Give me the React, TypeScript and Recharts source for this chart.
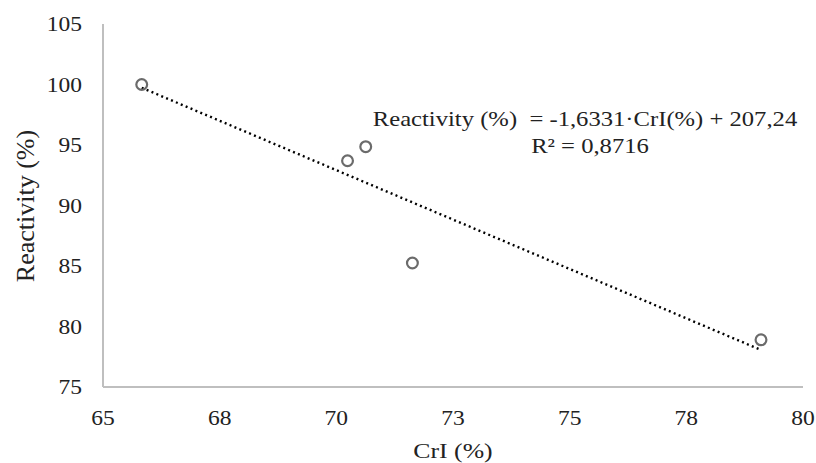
import React from 'react';
import { ScatterChart, Scatter, XAxis, YAxis, Customized } from 'recharts';

const crI = [65.83, 70.24, 70.63, 71.63, 79.1];
const reactivity = [100.0, 93.7, 94.86, 85.25, 78.9];

const trendX = [65.83, 79.1];
const trendY = [99.73, 78.06];

const xTicks = [65, 67.5, 70, 72.5, 75, 77.5, 80];
const xTickLabels = ['65', '68', '70', '73', '75', '78', '80'];
const yTicks = [75, 80, 85, 90, 95, 100, 105];

const xTitle = 'CrI (%)';
const yTitle = 'Reactivity (%)';
const equationLine1 = 'Reactivity (%)  = -1,6331·CrI(%) + 207,24';
const equationLine2 = 'R² = 0,8716';

const points = crI.map((x, i) => ({ x, y: reactivity[i] }));
const trend = trendX.map((x, i) => ({ x, y: trendY[i] }));

const FONT = '"Liberation Serif", "Times New Roman", serif';
const TEXT = '#222';
const SX = 1.12;

const XTick = (props: any) => {
  const { x, y, payload } = props;
  const label = xTickLabels[xTicks.indexOf(payload.value)] ?? String(payload.value);
  return (
    <text transform={`translate(${x},${y}) scale(${SX},1)`} x={0} y={0} dy="0.71em" textAnchor="middle"
      style={{ fontFamily: FONT, fontSize: 21, fill: TEXT }}>{label}</text>
  );
};

const YTick = (props: any) => {
  const { x, y, payload } = props;
  return (
    <text transform={`translate(${x},${y}) scale(${SX},1)`} x={0} y={0} dy="0.35em" textAnchor="end"
      style={{ fontFamily: FONT, fontSize: 21, fill: TEXT }}>{String(payload.value)}</text>
  );
};

const ScaledText = ({ cx, cy, size, sx, rotate, children }: any) => (
  <text
    transform={`translate(${cx},${cy})${rotate ? ` rotate(${rotate})` : ''} scale(${sx},1)`}
    x={0} y={0} textAnchor="middle" dominantBaseline="central"
    style={{ fontFamily: FONT, fontSize: size, fill: TEXT, whiteSpace: 'pre' }}
  >{children}</text>
);

export default function App() {
  return (
    <div style={{ position: 'absolute', left: 0, top: 0, width: 816, height: 463, background: '#fff' }}>
      <ScatterChart width={816} height={463} margin={{ top: 24, right: 13, left: 0, bottom: 0 }}>
        <XAxis
          type="number"
          dataKey="x"
          domain={[65, 80]}
          ticks={xTicks}
          height={76}
          axisLine={{ stroke: '#bfbfbf', strokeWidth: 2 }}
          tickLine={false}
          tick={<XTick />}
          tickMargin={17}
        />
        <YAxis
          type="number"
          dataKey="y"
          domain={[75, 105]}
          ticks={yTicks}
          width={103}
          axisLine={{ stroke: '#bfbfbf', strokeWidth: 2 }}
          tickLine={false}
          tick={<YTick />}
          tickMargin={15}
        />
        <Scatter
          data={trend}
          isAnimationActive={false}
          line={{ stroke: '#000', strokeWidth: 2.4, strokeDasharray: '2 3.3' }}
          shape={() => null}
        />
        <Scatter
          data={points}
          isAnimationActive={false}
          shape={(props: any) => (
            <circle cx={props.cx} cy={props.cy} r={5.4} fill="none" stroke="#6b6b6b" strokeWidth={2.2} />
          )}
        />
        <Customized
          component={() => (
            <g>
              <ScaledText cx={585} cy={118} size={22} sx={SX}>{equationLine1}</ScaledText>
              <ScaledText cx={590} cy={145} size={22} sx={SX}>{equationLine2}</ScaledText>
              <ScaledText cx={453} cy={451} size={22} sx={1.17}>{xTitle}</ScaledText>
              <ScaledText cx={25} cy={206} size={26} sx={1} rotate={-90}>{yTitle}</ScaledText>
            </g>
          )}
        />
      </ScatterChart>
    </div>
  );
}
